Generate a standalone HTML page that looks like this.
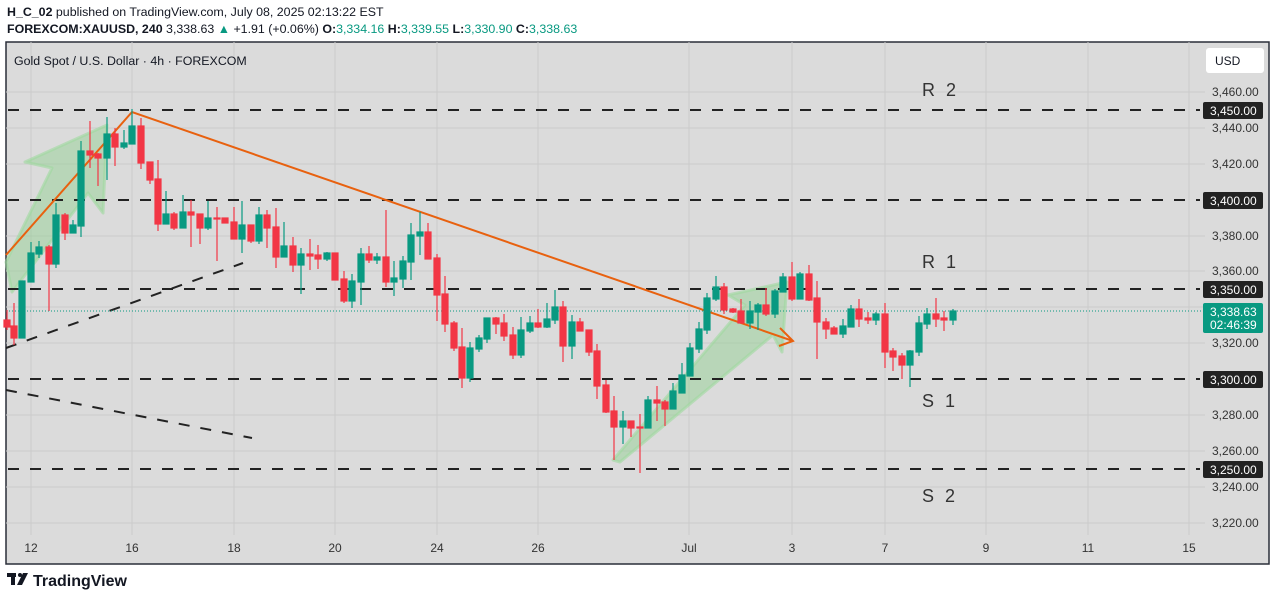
<!DOCTYPE html>
<html><head><meta charset="utf-8"><style>
body{margin:0;width:1275px;height:599px;background:#fff;font-family:"Liberation Sans",sans-serif;overflow:hidden;position:relative}
.t{position:absolute;white-space:nowrap;color:#131722}
</style></head><body>
<div class="t" style="left:7px;top:5px;font-size:12.4px"><b>H_C_02</b> published on TradingView.com, July 08, 2025 02:13:22 EST</div>
<div class="t" style="left:7px;top:22px;font-size:12.4px"><b>FOREXCOM:XAUUSD, 240</b> 3,338.63 <span style="color:#089981">▲</span> +1.91 (+0.06%) <b>O:</b><span style="color:#089981">3,334.16</span> <b>H:</b><span style="color:#089981">3,339.55</span> <b>L:</b><span style="color:#089981">3,330.90</span> <b>C:</b><span style="color:#089981">3,338.63</span></div>
<svg style="position:absolute;left:0;top:0" width="1275" height="599" font-family="Liberation Sans, sans-serif">
<rect x="6" y="42" width="1263" height="522" fill="#dbdbdb" stroke="#2a2e39" stroke-width="1.5"/>
<g stroke="#cbcbcb" stroke-width="1">
<line x1="6" x2="1205" y1="92" y2="92"/><line x1="6" x2="1205" y1="128" y2="128"/><line x1="6" x2="1205" y1="164" y2="164"/><line x1="6" x2="1205" y1="236" y2="236"/><line x1="6" x2="1205" y1="271" y2="271"/><line x1="6" x2="1205" y1="307" y2="307"/><line x1="6" x2="1205" y1="343" y2="343"/><line x1="6" x2="1205" y1="415" y2="415"/><line x1="6" x2="1205" y1="451" y2="451"/><line x1="6" x2="1205" y1="487" y2="487"/><line x1="6" x2="1205" y1="523" y2="523"/>
<line x1="31" x2="31" y1="42" y2="535"/><line x1="132" x2="132" y1="42" y2="535"/><line x1="234" x2="234" y1="42" y2="535"/><line x1="335" x2="335" y1="42" y2="535"/><line x1="437" x2="437" y1="42" y2="535"/><line x1="538" x2="538" y1="42" y2="535"/><line x1="689" x2="689" y1="42" y2="535"/><line x1="792" x2="792" y1="42" y2="535"/><line x1="885" x2="885" y1="42" y2="535"/><line x1="986" x2="986" y1="42" y2="535"/><line x1="1088" x2="1088" y1="42" y2="535"/><line x1="1189" x2="1189" y1="42" y2="535"/>
</g>
<text x="14" y="65" font-size="12.4" fill="#131722">Gold Spot / U.S. Dollar · 4h · FOREXCOM</text>
<g fill="#8fd18f" fill-opacity="0.45" stroke="#9fd89f" stroke-opacity="0.6" stroke-width="3" stroke-linejoin="round">
<polygon points="6,262 52,168 25,162 107,125 103,213 88,193 12,292"/>
<polygon points="613,460 745,305 728,295 787,282 782,352 773,335 620,462"/>
</g>
<g stroke="#222" stroke-width="2" stroke-dasharray="11,11">
<line x1="8" x2="1200" y1="110" y2="110"/><line x1="8" x2="1200" y1="200" y2="200"/><line x1="8" x2="1200" y1="289" y2="289"/><line x1="8" x2="1200" y1="379" y2="379"/><line x1="8" x2="1200" y1="469" y2="469"/>
<line x1="6" y1="348" x2="243" y2="263"/><line x1="6" y1="390" x2="252" y2="438"/>
</g>
<line x1="6" x2="1205" y1="311" y2="311" stroke="#089981" stroke-width="1" stroke-dasharray="1,2"/>
<polyline points="6,255 132,112 793,341" fill="none" stroke="#e8610f" stroke-width="2"/>
<polyline points="780,328 793,341 779,346" fill="none" stroke="#e8610f" stroke-width="2"/>
<g font-size="18" fill="#333" letter-spacing="3"><text x="922" y="96">R 2</text><text x="922" y="268">R 1</text><text x="922" y="407">S 1</text><text x="922" y="502">S 2</text></g>
<g fill="#f23645" stroke="#f23645" stroke-width="1.2">
<line x1="7" x2="7" y1="310" y2="330"/><rect x="4" y="320" width="6" height="7"/>
<line x1="14" x2="14" y1="303" y2="345"/><rect x="11" y="326" width="6" height="12"/>
<line x1="49" x2="49" y1="245" y2="311"/><rect x="46" y="247" width="6" height="17"/>
<line x1="65" x2="65" y1="213" y2="240"/><rect x="62" y="215" width="6" height="18"/>
<line x1="90" x2="90" y1="121" y2="168"/><rect x="87" y="151" width="6" height="4"/>
<line x1="98" x2="98" y1="153" y2="186"/><rect x="95" y="154" width="6" height="4"/>
<line x1="115" x2="115" y1="128" y2="166"/><rect x="112" y="134" width="6" height="13"/>
<line x1="141" x2="141" y1="118" y2="169"/><rect x="138" y="126" width="6" height="37"/>
<line x1="150" x2="150" y1="162" y2="184"/><rect x="147" y="162" width="6" height="18"/>
<line x1="158" x2="158" y1="160" y2="231"/><rect x="155" y="179" width="6" height="45"/>
<line x1="174" x2="174" y1="212" y2="230"/><rect x="171" y="214" width="6" height="14"/>
<line x1="191" x2="191" y1="200" y2="247"/><rect x="188" y="212" width="6" height="3"/>
<line x1="200" x2="200" y1="214" y2="244"/><rect x="197" y="214" width="6" height="14"/>
<line x1="217" x2="217" y1="207" y2="261"/><rect x="214" y="218" width="6" height="1"/>
<line x1="225" x2="225" y1="218" y2="223"/><rect x="222" y="218" width="6" height="5"/>
<line x1="234" x2="234" y1="207" y2="239"/><rect x="231" y="222" width="6" height="17"/>
<line x1="251" x2="251" y1="225" y2="243"/><rect x="248" y="225" width="6" height="16"/>
<line x1="267" x2="267" y1="210" y2="248"/><rect x="264" y="215" width="6" height="13"/>
<line x1="276" x2="276" y1="208" y2="268"/><rect x="273" y="227" width="6" height="30"/>
<line x1="293" x2="293" y1="237" y2="272"/><rect x="290" y="246" width="6" height="19"/>
<line x1="310" x2="310" y1="239" y2="270"/><rect x="307" y="254" width="6" height="2"/>
<line x1="318" x2="318" y1="245" y2="269"/><rect x="315" y="255" width="6" height="4"/>
<line x1="335" x2="335" y1="253" y2="280"/><rect x="332" y="253" width="6" height="27"/>
<line x1="344" x2="344" y1="271" y2="303"/><rect x="341" y="279" width="6" height="22"/>
<line x1="369" x2="369" y1="246" y2="263"/><rect x="366" y="254" width="6" height="6"/>
<line x1="386" x2="386" y1="210" y2="287"/><rect x="383" y="257" width="6" height="25"/>
<line x1="428" x2="428" y1="223" y2="259"/><rect x="425" y="232" width="6" height="27"/>
<line x1="437" x2="437" y1="254" y2="321"/><rect x="434" y="258" width="6" height="37"/>
<line x1="445" x2="445" y1="276" y2="332"/><rect x="442" y="294" width="6" height="30"/>
<line x1="454" x2="454" y1="321" y2="351"/><rect x="451" y="323" width="6" height="25"/>
<line x1="462" x2="462" y1="328" y2="388"/><rect x="459" y="347" width="6" height="31"/>
<line x1="496" x2="496" y1="317" y2="334"/><rect x="493" y="318" width="6" height="6"/>
<line x1="504" x2="504" y1="314" y2="341"/><rect x="501" y="323" width="6" height="13"/>
<line x1="513" x2="513" y1="327" y2="359"/><rect x="510" y="335" width="6" height="20"/>
<line x1="538" x2="538" y1="309" y2="328"/><rect x="535" y="323" width="6" height="4"/>
<line x1="563" x2="563" y1="301" y2="362"/><rect x="560" y="307" width="6" height="39"/>
<line x1="580" x2="580" y1="318" y2="331"/><rect x="577" y="322" width="6" height="9"/>
<line x1="589" x2="589" y1="330" y2="356"/><rect x="586" y="330" width="6" height="22"/>
<line x1="597" x2="597" y1="344" y2="399"/><rect x="594" y="351" width="6" height="35"/>
<line x1="606" x2="606" y1="380" y2="413"/><rect x="603" y="385" width="6" height="27"/>
<line x1="614" x2="614" y1="396" y2="460"/><rect x="611" y="411" width="6" height="16"/>
<line x1="631" x2="631" y1="421" y2="437"/><rect x="628" y="421" width="6" height="7"/>
<line x1="640" x2="640" y1="414" y2="473"/><rect x="637" y="427" width="6" height="1"/>
<line x1="657" x2="657" y1="386" y2="421"/><rect x="654" y="400" width="6" height="3"/>
<line x1="665" x2="665" y1="400" y2="426"/><rect x="662" y="402" width="6" height="7"/>
<line x1="724" x2="724" y1="283" y2="314"/><rect x="721" y="287" width="6" height="23"/>
<line x1="733" x2="733" y1="308" y2="313"/><rect x="730" y="309" width="6" height="3"/>
<line x1="741" x2="741" y1="299" y2="323"/><rect x="738" y="311" width="6" height="12"/>
<line x1="766" x2="766" y1="288" y2="316"/><rect x="763" y="305" width="6" height="9"/>
<line x1="792" x2="792" y1="262" y2="301"/><rect x="789" y="277" width="6" height="22"/>
<line x1="809" x2="809" y1="265" y2="301"/><rect x="806" y="274" width="6" height="26"/>
<line x1="817" x2="817" y1="281" y2="359"/><rect x="814" y="298" width="6" height="24"/>
<line x1="826" x2="826" y1="318" y2="339"/><rect x="823" y="322" width="6" height="7"/>
<line x1="834" x2="834" y1="326" y2="334"/><rect x="831" y="328" width="6" height="6"/>
<line x1="859" x2="859" y1="299" y2="327"/><rect x="856" y="309" width="6" height="10"/>
<line x1="868" x2="868" y1="312" y2="324"/><rect x="865" y="318" width="6" height="2"/>
<line x1="885" x2="885" y1="303" y2="368"/><rect x="882" y="314" width="6" height="38"/>
<line x1="893" x2="893" y1="348" y2="371"/><rect x="890" y="351" width="6" height="6"/>
<line x1="902" x2="902" y1="353" y2="379"/><rect x="899" y="356" width="6" height="9"/>
<line x1="936" x2="936" y1="298" y2="327"/><rect x="933" y="314" width="6" height="5"/>
<line x1="944" x2="944" y1="311" y2="331"/><rect x="941" y="318" width="6" height="2"/>
</g>
<g fill="#089981" stroke="#089981" stroke-width="1.2">
<line x1="22" x2="22" y1="281" y2="338"/><rect x="19" y="281" width="6" height="57"/>
<line x1="31" x2="31" y1="242" y2="282"/><rect x="28" y="253" width="6" height="29"/>
<line x1="39" x2="39" y1="241" y2="258"/><rect x="36" y="247" width="6" height="7"/>
<line x1="56" x2="56" y1="203" y2="268"/><rect x="53" y="215" width="6" height="49"/>
<line x1="73" x2="73" y1="220" y2="233"/><rect x="70" y="225" width="6" height="8"/>
<line x1="81" x2="81" y1="141" y2="237"/><rect x="78" y="151" width="6" height="75"/>
<line x1="107" x2="107" y1="117" y2="180"/><rect x="104" y="134" width="6" height="24"/>
<line x1="124" x2="124" y1="130" y2="149"/><rect x="121" y="143" width="6" height="4"/>
<line x1="132" x2="132" y1="109" y2="144"/><rect x="129" y="126" width="6" height="18"/>
<line x1="166" x2="166" y1="191" y2="224"/><rect x="163" y="214" width="6" height="10"/>
<line x1="183" x2="183" y1="195" y2="228"/><rect x="180" y="212" width="6" height="16"/>
<line x1="208" x2="208" y1="201" y2="230"/><rect x="205" y="218" width="6" height="10"/>
<line x1="242" x2="242" y1="201" y2="253"/><rect x="239" y="225" width="6" height="14"/>
<line x1="259" x2="259" y1="207" y2="244"/><rect x="256" y="215" width="6" height="26"/>
<line x1="284" x2="284" y1="222" y2="257"/><rect x="281" y="246" width="6" height="11"/>
<line x1="301" x2="301" y1="248" y2="294"/><rect x="298" y="254" width="6" height="11"/>
<line x1="327" x2="327" y1="252" y2="261"/><rect x="324" y="253" width="6" height="6"/>
<line x1="352" x2="352" y1="274" y2="308"/><rect x="349" y="281" width="6" height="20"/>
<line x1="361" x2="361" y1="248" y2="305"/><rect x="358" y="254" width="6" height="28"/>
<line x1="377" x2="377" y1="253" y2="264"/><rect x="374" y="257" width="6" height="3"/>
<line x1="394" x2="394" y1="261" y2="296"/><rect x="391" y="278" width="6" height="4"/>
<line x1="403" x2="403" y1="256" y2="288"/><rect x="400" y="261" width="6" height="18"/>
<line x1="411" x2="411" y1="223" y2="280"/><rect x="408" y="235" width="6" height="27"/>
<line x1="420" x2="420" y1="212" y2="255"/><rect x="417" y="232" width="6" height="4"/>
<line x1="470" x2="470" y1="342" y2="382"/><rect x="467" y="348" width="6" height="30"/>
<line x1="479" x2="479" y1="335" y2="352"/><rect x="476" y="338" width="6" height="11"/>
<line x1="487" x2="487" y1="318" y2="343"/><rect x="484" y="318" width="6" height="21"/>
<line x1="521" x2="521" y1="317" y2="358"/><rect x="518" y="330" width="6" height="25"/>
<line x1="530" x2="530" y1="316" y2="333"/><rect x="527" y="323" width="6" height="8"/>
<line x1="547" x2="547" y1="303" y2="328"/><rect x="544" y="319" width="6" height="8"/>
<line x1="555" x2="555" y1="290" y2="324"/><rect x="552" y="307" width="6" height="13"/>
<line x1="572" x2="572" y1="315" y2="359"/><rect x="569" y="322" width="6" height="24"/>
<line x1="623" x2="623" y1="411" y2="444"/><rect x="620" y="421" width="6" height="6"/>
<line x1="648" x2="648" y1="396" y2="428"/><rect x="645" y="400" width="6" height="28"/>
<line x1="673" x2="673" y1="383" y2="409"/><rect x="670" y="391" width="6" height="18"/>
<line x1="682" x2="682" y1="363" y2="393"/><rect x="679" y="375" width="6" height="18"/>
<line x1="690" x2="690" y1="343" y2="376"/><rect x="687" y="348" width="6" height="28"/>
<line x1="699" x2="699" y1="322" y2="353"/><rect x="696" y="329" width="6" height="20"/>
<line x1="707" x2="707" y1="293" y2="334"/><rect x="704" y="298" width="6" height="32"/>
<line x1="716" x2="716" y1="276" y2="301"/><rect x="713" y="287" width="6" height="12"/>
<line x1="750" x2="750" y1="301" y2="329"/><rect x="747" y="311" width="6" height="12"/>
<line x1="758" x2="758" y1="303" y2="330"/><rect x="755" y="305" width="6" height="7"/>
<line x1="775" x2="775" y1="289" y2="318"/><rect x="772" y="291" width="6" height="23"/>
<line x1="783" x2="783" y1="273" y2="292"/><rect x="780" y="277" width="6" height="15"/>
<line x1="800" x2="800" y1="272" y2="299"/><rect x="797" y="274" width="6" height="25"/>
<line x1="843" x2="843" y1="319" y2="338"/><rect x="840" y="326" width="6" height="8"/>
<line x1="851" x2="851" y1="305" y2="327"/><rect x="848" y="309" width="6" height="18"/>
<line x1="876" x2="876" y1="312" y2="325"/><rect x="873" y="314" width="6" height="6"/>
<line x1="910" x2="910" y1="350" y2="387"/><rect x="907" y="351" width="6" height="14"/>
<line x1="919" x2="919" y1="316" y2="356"/><rect x="916" y="323" width="6" height="29"/>
<line x1="927" x2="927" y1="308" y2="329"/><rect x="924" y="314" width="6" height="10"/>
<line x1="953" x2="953" y1="309" y2="325"/><rect x="950" y="311" width="6" height="9"/>
</g>
<rect x="1206" y="48" width="58" height="25" rx="3" fill="#fff"/>
<text x="1215" y="65" font-size="12" fill="#131722">USD</text>
<g font-size="12" fill="#333">
<text x="1212" y="96">3,460.00</text><text x="1212" y="132">3,440.00</text><text x="1212" y="168">3,420.00</text><text x="1212" y="240">3,380.00</text><text x="1212" y="275">3,360.00</text><text x="1212" y="347">3,320.00</text><text x="1212" y="419">3,280.00</text><text x="1212" y="455">3,260.00</text><text x="1212" y="491">3,240.00</text><text x="1212" y="527">3,220.00</text>
</g>
<g font-size="12" fill="#fff">
<rect x="1203" y="102" width="60" height="17" rx="2" fill="#222"/><text x="1210" y="115">3,450.00</text>
<rect x="1203" y="192" width="60" height="17" rx="2" fill="#222"/><text x="1210" y="205">3,400.00</text>
<rect x="1203" y="281" width="60" height="17" rx="2" fill="#222"/><text x="1210" y="294">3,350.00</text>
<rect x="1203" y="371" width="60" height="17" rx="2" fill="#222"/><text x="1210" y="384">3,300.00</text>
<rect x="1203" y="461" width="60" height="17" rx="2" fill="#222"/><text x="1210" y="474">3,250.00</text>
<rect x="1203" y="303" width="60" height="30" rx="2" fill="#089981"/><text x="1210" y="316">3,338.63</text><text x="1210" y="329">02:46:39</text>
</g>
<g font-size="12" fill="#333" text-anchor="middle">
<text x="31" y="552">12</text><text x="132" y="552">16</text><text x="234" y="552">18</text><text x="335" y="552">20</text><text x="437" y="552">24</text><text x="538" y="552">26</text><text x="689" y="552">Jul</text><text x="792" y="552">3</text><text x="885" y="552">7</text><text x="986" y="552">9</text><text x="1088" y="552">11</text><text x="1189" y="552">15</text>
</g>
<g fill="#131722"><rect x="7" y="573" width="9" height="4"/><rect x="11" y="573" width="4" height="12"/><circle cx="20" cy="575" r="2"/><polygon points="23,573 28,573 22,585 17,585"/></g>
<text x="33" y="586" font-size="16" font-weight="bold" fill="#131722">TradingView</text>
</svg>
</body></html>
